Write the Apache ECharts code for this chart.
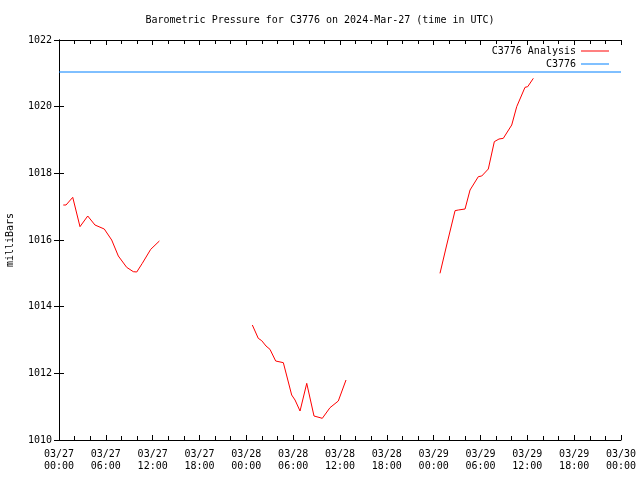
<!DOCTYPE html>
<html>
<head>
<meta charset="utf-8">
<script src="https://cdn.jsdelivr.net/npm/echarts@6/dist/echarts.min.js"></script>
<style>html,body{margin:0;padding:0;background:#fff}#c{width:640px;height:480px}</style>
</head>
<body>
<div id="c"></div>
<script>
// hours since 2024-03-27 00:00 UTC
const seg1Hours = [0.55,0.9,1.76,2.69,3.68,4.61,5.8,6.75,7.6,8.67,9.52,9.96,10.67,11.75,12.86];
const seg1Values = [1017.05,1017.05,1017.28,1016.4,1016.72,1016.45,1016.33,1016.0,1015.52,1015.18,1015.05,1015.04,1015.3,1015.72,1015.97];
const seg2Hours = [24.77,25.53,25.97,26.52,27.03,27.76,28.74,28.96,29.81,30.24,30.88,31.74,31.94,32.67,33.44,33.73,34.72,35.78,36.0,36.77];
const seg2Values = [1013.45,1013.05,1012.98,1012.82,1012.72,1012.37,1012.32,1012.3,1011.35,1011.2,1010.87,1011.7,1011.7,1010.72,1010.67,1010.65,1010.97,1011.17,1011.2,1011.8];
const seg3Hours = [48.81,49.67,49.88,50.74,51.16,52.02,52.66,53.72,54.16,55.0,55.77,56.37,56.92,58.0,58.64,59.28,59.7,60.05,60.77];
const seg3Values = [1015.0,1015.85,1015.9,1016.88,1016.9,1016.93,1017.5,1017.9,1017.92,1018.13,1018.95,1019.03,1019.05,1019.45,1020.0,1020.35,1020.58,1020.6,1020.85];
const stationHours = [0, 72];
const stationValues = [1021.04, 1021.04];
const xTickLabels = ['03/27\n00:00','03/27\n06:00','03/27\n12:00','03/27\n18:00','03/28\n00:00','03/28\n06:00','03/28\n12:00','03/28\n18:00','03/29\n00:00','03/29\n06:00','03/29\n12:00','03/29\n18:00','03/30\n00:00'];

function pairs(h, v) { return h.map((x, i) => [x, v[i]]); }
const analysisData = pairs(seg1Hours, seg1Values).concat([[18, null]], pairs(seg2Hours, seg2Values), [[42, null]], pairs(seg3Hours, seg3Values));
const stationData = pairs(stationHours, stationValues);

const FONT = 'DejaVu Sans Mono';
const xBase = {
  type: 'value', min: 0, max: 72, interval: 6,
  axisLine: { show: true, lineStyle: { color: '#000', width: 1 } },
  axisTick: { show: true, inside: true, length: 5, lineStyle: { color: '#000' } },
  minorTick: { show: true, splitNumber: 3, length: 4, lineStyle: { color: '#000' } },
  splitLine: { show: false }, minorSplitLine: { show: false }
};
const yBase = {
  type: 'value', min: 1010, max: 1022, interval: 2,
  axisLine: { show: true, lineStyle: { color: '#000', width: 1 } },
  axisTick: { show: true, inside: true, length: 5, lineStyle: { color: '#000' } },
  splitLine: { show: false }
};
const chart = echarts.init(document.getElementById('c'), null, { renderer: 'canvas' });
chart.setOption({
  animation: false,
  backgroundColor: '#fff',
  title: {
    text: 'Barometric Pressure for C3776 on 2024-Mar-27 (time in UTC)',
    left: 'center', top: 10,
    textStyle: { fontFamily: FONT, fontSize: 10, fontWeight: 'normal', color: '#000' }
  },
  legend: {
    orient: 'vertical', right: 26, top: 40, align: 'right',
    icon: 'rect', itemWidth: 28, itemHeight: 1, itemGap: 1,
    textStyle: { fontFamily: FONT, fontSize: 10, color: '#000', lineHeight: 12 },
    data: ['C3776 Analysis', 'C3776']
  },
  grid: { left: 59, right: 19, top: 40, bottom: 40, containLabel: false, outerBoundsMode: 'none' },
  xAxis: [
    Object.assign({}, xBase, {
      position: 'bottom',
      axisLabel: {
        show: true, margin: 8, fontFamily: FONT, fontSize: 10, color: '#000', lineHeight: 12,
        formatter: v => xTickLabels[Math.round(v / 6)]
      }
    }),
    Object.assign({}, xBase, { position: 'top', axisLabel: { show: false } })
  ],
  yAxis: [
    Object.assign({}, yBase, {
      position: 'left',
      name: 'milliBars', nameLocation: 'middle', nameRotate: 90, nameGap: 44,
      nameTextStyle: { fontFamily: FONT, fontSize: 10, color: '#000' },
      axisLabel: { show: true, margin: 7, fontFamily: FONT, fontSize: 10, color: '#000', formatter: v => String(v) }
    }),
    Object.assign({}, yBase, { position: 'right', axisLabel: { show: false } })
  ],
  series: [
    {
      name: 'C3776 Analysis', type: 'line', data: analysisData, showSymbol: false, symbol: 'none',
      connectNulls: false, lineStyle: { color: '#ff0000', width: 1 }, itemStyle: { color: '#ff0000' }
    },
    {
      name: 'C3776', type: 'line', data: stationData, showSymbol: false, symbol: 'none',
      lineStyle: { color: '#0080ff', width: 1 }, itemStyle: { color: '#0080ff' }
    }
  ]
});
</script>
</body>
</html>
